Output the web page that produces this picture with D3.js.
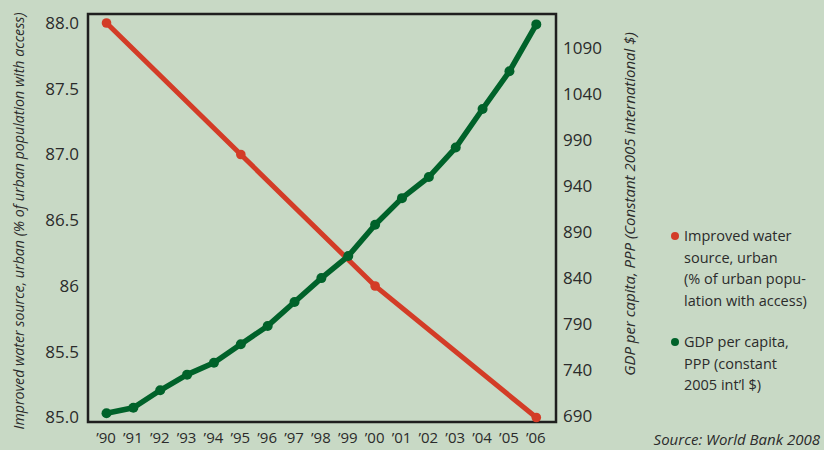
<!DOCTYPE html>
<html>
<head>
<meta charset="utf-8">
<script src="https://cdn.jsdelivr.net/npm/d3@7"></script>
<style>
  html, body { margin: 0; padding: 0; background: #c8d9c5; }
  svg { display: block; }
  text { font-family: "Open Sans", "Noto Sans", sans-serif; fill: #2b2b2b; }
</style>
</head>
<body>
<svg id="chart" width="824" height="450"></svg>
<script>
// Years and labels along the bottom
const years = [1990, 1991, 1992, 1993, 1994, 1995, 1996, 1997, 1998, 1999, 2000, 2001, 2002, 2003, 2004, 2005, 2006];
const yearLabels = ["’90", "’91", "’92", "’93", "’94", "’95", "’96", "’97", "’98", "’99", "’00", "’01", "’02", "’03", "’04", "’05", "’06"];

// Improved water source, urban (% of urban population with access)
const waterYears = [1990, 1995, 2000, 2006];
const waterValues = [88.0, 87.0, 86.0, 85.0];

// GDP per capita, PPP (constant 2005 international $)
const gdpValues = [693, 699, 718, 735, 748, 768, 788, 814, 840, 864, 898, 927, 950, 982, 1024, 1065, 1116];

// Axis ticks
const leftTicks = [85.0, 85.5, 86, 86.5, 87.0, 87.5, 88.0];
const leftTickLabels = ["85.0", "85.5", "86", "86.5", "87.0", "87.5", "88.0"];
const rightTicks = [690, 740, 790, 840, 890, 940, 990, 1040, 1090];

const svg = d3.select("#chart");
const frame = { left: 88, right: 556, top: 14, bottom: 422 };

const x = d3.scaleLinear().domain([1990, 2006]).range([106.5, 536.3]);
const yLeft = d3.scaleLinear().domain([85, 88]).range([417.5, 23]);
const yRight = d3.scaleLinear().domain([690, 1090]).range([416, 48.3]);

const red = "#d33c27";
const green = "#00622a";

// Plot frame
svg.append("rect")
  .attr("x", frame.left).attr("y", frame.top)
  .attr("width", frame.right - frame.left).attr("height", frame.bottom - frame.top)
  .attr("fill", "none").attr("stroke", "#1f1f1f").attr("stroke-width", 2.5);

// Left axis
const leftAxis = d3.axisLeft(yLeft).tickValues(leftTicks).tickSize(0).tickPadding(0)
  .tickFormat((d, i) => leftTickLabels[i]);
svg.append("g").attr("transform", "translate(79,0)").call(leftAxis)
  .call(g => g.select(".domain").remove())
  .selectAll("text").attr("font-size", 17).attr("font-family", null).attr("fill", "#2b2b2b");

// Right axis
const rightAxis = d3.axisRight(yRight).tickValues(rightTicks).tickSize(0).tickPadding(0)
  .tickFormat(d3.format("d"));
svg.append("g").attr("transform", "translate(563,0)").call(rightAxis)
  .call(g => g.select(".domain").remove())
  .selectAll("text").attr("font-size", 17).attr("font-family", null).attr("fill", "#2b2b2b");

// Bottom axis
const bottomAxis = d3.axisBottom(x).tickValues(years).tickSize(0).tickPadding(0)
  .tickFormat((d, i) => yearLabels[i]);
svg.append("g").attr("transform", "translate(-1,432)").call(bottomAxis)
  .call(g => g.select(".domain").remove())
  .selectAll("text").attr("font-size", 15).attr("font-family", null).attr("fill", "#2b2b2b");

// Axis titles
svg.append("text")
  .attr("transform", "translate(24,221) rotate(-90)")
  .attr("text-anchor", "middle").attr("font-style", "italic").attr("font-size", 14.2)
  .text("Improved water source, urban (% of urban population with access)");

svg.append("text")
  .attr("transform", "translate(635,204) rotate(-90)")
  .attr("text-anchor", "middle").attr("font-style", "italic").attr("font-size", 15)
  .text("GDP per capita, PPP (Constant 2005 international $)");

// Water series
const waterData = waterYears.map((yr, i) => ({ x: yr, y: waterValues[i] }));
svg.append("path").datum(waterData)
  .attr("fill", "none").attr("stroke", red).attr("stroke-width", 5)
  .attr("d", d3.line().x(d => x(d.x)).y(d => yLeft(d.y)));
svg.append("g").selectAll("circle").data(waterData).join("circle")
  .attr("cx", d => x(d.x)).attr("cy", d => yLeft(d.y)).attr("r", 4.8).attr("fill", red);

// GDP series
const gdpData = years.map((yr, i) => ({ x: yr, y: gdpValues[i] }));
svg.append("path").datum(gdpData)
  .attr("fill", "none").attr("stroke", green).attr("stroke-width", 5.5)
  .attr("stroke-linejoin", "round")
  .attr("d", d3.line().x(d => x(d.x)).y(d => yRight(d.y)));
svg.append("g").selectAll("circle").data(gdpData).join("circle")
  .attr("cx", d => x(d.x)).attr("cy", d => yRight(d.y)).attr("r", 5).attr("fill", green);

// Legend
const legend = [
  { color: red, y: 236, lines: ["Improved water", "source, urban", "(% of urban popu-", "lation with access)"] },
  { color: green, y: 342, lines: ["GDP per capita,", "PPP (constant", "2005 int’l $)"] }
];
legend.forEach(item => {
  svg.append("circle").attr("cx", 675).attr("cy", item.y).attr("r", 4).attr("fill", item.color);
  const t = svg.append("text").attr("x", 684).attr("y", item.y).attr("font-size", 14.5);
  item.lines.forEach((ln, i) => {
    t.append("tspan").attr("x", 684).attr("dy", i === 0 ? "0.35em" : 21.5).text(ln);
  });
});

// Source note
svg.append("text")
  .attr("x", 820).attr("y", 445).attr("text-anchor", "end")
  .attr("font-style", "italic").attr("font-size", 15)
  .text("Source: World Bank 2008");
</script>
</body>
</html>
